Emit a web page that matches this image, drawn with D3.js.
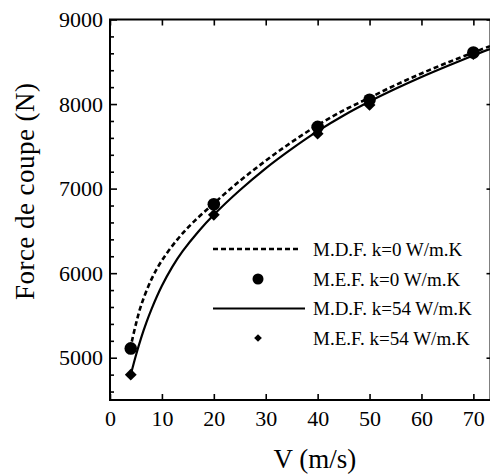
<!DOCTYPE html>
<html><head><meta charset="utf-8">
<script src="https://cdn.jsdelivr.net/npm/d3@7"></script>
<style>
html,body{margin:0;padding:0;background:#fff;}
svg{display:block;}
svg text{font-family:"Liberation Serif","Times New Roman","Times","Nimbus Roman","Nimbus Roman No9 L","FreeSerif","Noto Serif","DejaVu Serif","Tinos",serif !important;}
</style></head>
<body>
<svg id="c" width="490" height="475"></svg>
<script>
// ---- data ----
const xTicks = [0, 10, 20, 30, 40, 50, 60, 70];
const yTicks = [5000, 6000, 7000, 8000, 9000];
const xLabel = "V (m/s)";
const yLabel = "Force de coupe (N)";
const legendLabels = ["M.D.F. k=0 W/m.K", "M.E.F. k=0 W/m.K", "M.D.F. k=54 W/m.K", "M.E.F. k=54 W/m.K"];

// M.D.F. k=0 (dashed curve)
const mdf0V = [4.2, 5, 6, 8, 10, 13, 16, 20, 25, 30, 35, 40, 45, 50, 55, 60, 65, 70, 73.2];
const mdf0F = [5190, 5400, 5620, 5930, 6150, 6400, 6600, 6825, 7090, 7330, 7550, 7750, 7925, 8075, 8225, 8362, 8490, 8610, 8685];
// M.D.F. k=54 (solid curve)
const mdf54V = [4, 5, 6, 7, 8, 10, 12, 14, 17, 20, 25, 30, 35, 40, 45, 50, 55, 60, 65, 70, 73.2];
const mdf54F = [4800, 5030, 5235, 5415, 5575, 5850, 6075, 6260, 6490, 6690, 6980, 7240, 7470, 7680, 7865, 8030, 8180, 8320, 8450, 8575, 8650];
// M.E.F. k=0 (circles)
const mef0V = [4, 20, 40, 50, 70];
const mef0F = [5110, 6815, 7730, 8050, 8610];
// M.E.F. k=54 (diamonds)
const mef54V = [4, 20, 40, 50, 70];
const mef54F = [4800, 6690, 7650, 7990, 8590];

// ---- layout ----
const L = 110, R = 490.5, T = 19.5, B = 400;
const svg = d3.select("#c");
const x = d3.scaleLinear().domain([0, 73.3]).range([L, R]);
const y = d3.scaleLinear().domain([4500, 9000]).range([B, T]);

svg.append("defs").append("clipPath").attr("id", "clip")
  .append("rect").attr("x", L).attr("y", T).attr("width", R - L).attr("height", B - T);

// frame
svg.append("rect").attr("x", L).attr("y", T).attr("width", R - L).attr("height", B - T)
  .attr("fill", "none").attr("stroke", "#000").attr("stroke-width", 2);

// axes
const gx = svg.append("g").attr("transform", `translate(0,${B})`)
  .call(d3.axisBottom(x).tickValues(xTicks).tickSize(-6).tickPadding(10).tickFormat(d3.format("d")));
const gxt = svg.append("g").attr("transform", `translate(0,${T})`)
  .call(d3.axisTop(x).tickValues(xTicks).tickSize(-6).tickFormat(""));
const yMinor = d3.range(4600, 9000, 200).filter(v => v % 1000 !== 0);
const gym = svg.append("g").attr("transform", `translate(${L},0)`)
  .call(d3.axisLeft(y).tickValues(yMinor).tickSize(-4).tickFormat(""));
const gy = svg.append("g").attr("transform", `translate(${L},0)`)
  .call(d3.axisLeft(y).tickValues(yTicks).tickSize(-7).tickPadding(7).tickFormat(d3.format("d")));
const gyr = svg.append("g").attr("transform", `translate(${R},0)`)
  .call(d3.axisRight(y).tickValues(yTicks).tickSize(-4).tickFormat(""));

[gx, gxt, gym, gy, gyr].forEach(g => {
  g.attr("font-family", null);
  g.select(".domain").remove();
  g.selectAll(".tick line").attr("stroke", "#000").attr("stroke-width", 1.6);
  g.selectAll("text").attr("font-size", 22).attr("fill", "#000");
});
gx.selectAll("text").attr("dy", "0.71em");

// curves
const line = d3.line().x(d => x(d[0])).y(d => y(d[1])).curve(d3.curveCatmullRom);
const plot = svg.append("g").attr("clip-path", "url(#clip)");
plot.append("path").datum(d3.zip(mdf0V, mdf0F)).attr("d", line)
  .attr("fill", "none").attr("stroke", "#000").attr("stroke-width", 2.6).attr("stroke-dasharray", "5,3");
plot.append("path").datum(d3.zip(mdf54V, mdf54F)).attr("d", line)
  .attr("fill", "none").attr("stroke", "#000").attr("stroke-width", 2.2);

const sq = d3.symbol().type(d3.symbolSquare);
plot.selectAll(".dm").data(d3.zip(mef54V, mef54F)).join("path").attr("class", "dm")
  .attr("transform", d => `translate(${x(d[0])},${y(d[1])}) rotate(45)`)
  .attr("d", sq.size(70)()).attr("fill", "#000");
plot.selectAll(".ci").data(d3.zip(mef0V, mef0F)).join("circle").attr("class", "ci")
  .attr("cx", d => x(d[0])).attr("cy", d => y(d[1])).attr("r", 6.3).attr("fill", "#000");

// legend
const lg = svg.append("g");
const rowY = [249, 279, 308.5, 338];
lg.append("line").attr("x1", 213).attr("x2", 300).attr("y1", rowY[0]).attr("y2", rowY[0])
  .attr("stroke", "#000").attr("stroke-width", 2.4).attr("stroke-dasharray", "5,3");
lg.append("circle").attr("cx", 258).attr("cy", rowY[1]).attr("r", 5.5).attr("fill", "#000");
lg.append("line").attr("x1", 213).attr("x2", 305).attr("y1", rowY[2]).attr("y2", rowY[2])
  .attr("stroke", "#000").attr("stroke-width", 2.2);
lg.append("path").attr("transform", `translate(258,${rowY[3]}) rotate(45)`)
  .attr("d", d3.symbol().type(d3.symbolSquare).size(30)()).attr("fill", "#000");
lg.selectAll(".lt").data(legendLabels).join("text").attr("class", "lt")
  .attr("x", 313).attr("y", (d, i) => rowY[i] + 6.5)
  .attr("font-size", 19).attr("fill", "#000").text(d => d);

// axis titles
svg.append("text").attr("x", 315).attr("y", 468).attr("text-anchor", "middle")
  .attr("font-size", 27).attr("fill", "#000").text(xLabel);
svg.append("text").attr("transform", "translate(34,191.5) rotate(-90)")
  .attr("text-anchor", "middle").attr("font-size", 27).attr("fill", "#000")
  .attr("textLength", 217).attr("lengthAdjust", "spacing").text(yLabel);
</script>
</body></html>
